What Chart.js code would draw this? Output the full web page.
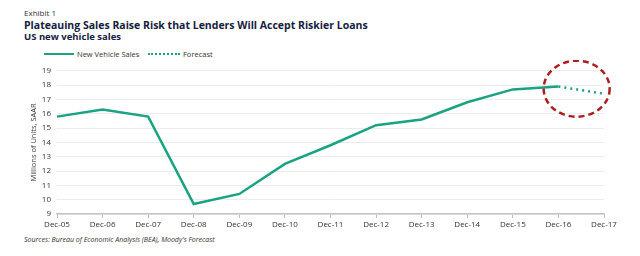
<!DOCTYPE html>
<html>
<head>
<meta charset="utf-8">
<script src="https://cdn.jsdelivr.net/npm/chart.js@4"></script>
<style>
  html, body { margin: 0; padding: 0; background: #fff; }
  body { width: 640px; height: 256px; position: relative; overflow: hidden; font-family: "Open Sans", "Noto Sans", sans-serif; color: #1b1b1b; }
  .txt { position: absolute; left: 24px; white-space: nowrap; line-height: 1; }
  #exhibit { top: 9px; font-size: 8px; color: #333; }
  #title { top: 20px; font-size: 10.5px; font-weight: 700; color: #14213d; }
  #subtitle { top: 32px; font-size: 9.5px; font-weight: 700; color: #14213d; }
  #source { top: 236px; font-size: 7px; font-style: italic; color: #333; }
  .leg { position: absolute; top: 49px; font-size: 7.5px; color: #333; line-height: 10px; }
  .sw { position: absolute; top: 53px; height: 0; }
  #chartBox { position: absolute; left: 0; top: 60px; width: 640px; height: 172px; }
</style>
</head>
<body>
<div class="txt" id="exhibit">Exhibit 1</div>
<div class="txt" id="title">Plateauing Sales Raise Risk that Lenders Will Accept Riskier Loans</div>
<div class="txt" id="subtitle">US new vehicle sales</div>
<div class="sw" style="left:44px;width:30px;border-top:2.5px solid #1aa383;"></div>
<div class="leg" style="left:77px;">New Vehicle Sales</div>
<div class="sw" style="left:148px;width:32px;border-top:2.5px dotted #1aa383;"></div>
<div class="leg" style="left:183px;">Forecast</div>
<div id="chartBox"><canvas id="salesChart"></canvas></div>
<div class="txt" id="source">Sources: Bureau of Economic Analysis (BEA), Moody's Forecast</div>

<script>
const categories = ['Dec-05', 'Dec-06', 'Dec-07', 'Dec-08', 'Dec-09', 'Dec-10', 'Dec-11', 'Dec-12', 'Dec-13', 'Dec-14', 'Dec-15', 'Dec-16', 'Dec-17'];
const salesValues = [15.8, 16.3, 15.8, 9.7, 10.4, 12.5, 13.8, 15.2, 15.6, 16.8, 17.7, 17.9, null];
const forecastValues = [null, null, null, null, null, null, null, null, null, null, null, 17.9, 17.4];
const yTicks = [9, 10, 11, 12, 13, 14, 15, 16, 17, 18, 19];

const lineColor = '#1aa383';

// red dashed ring around the forecast
const ringPlugin = {
    id: 'ring',
    afterDatasetsDraw(chart) {
        const { ctx, scales } = chart;
        const cx = scales.x.getPixelForValue(11.4);
        const cy = scales.y.getPixelForValue(17.75);
        ctx.save();
        ctx.strokeStyle = '#b01c1c';
        ctx.lineWidth = 2.5;
        ctx.setLineDash([6, 4]);
        ctx.beginPath();
        ctx.ellipse(cx, cy, 33, 28, 0, 0, Math.PI * 2);
        ctx.stroke();
        ctx.restore();
    }
};

const ctx = document.getElementById('salesChart').getContext('2d');
new Chart(ctx, {
    type: 'line',
    data: {
        labels: categories,
        datasets: [{
            label: 'New Vehicle Sales',
            data: salesValues,
            borderColor: lineColor,
            borderWidth: 2.5,
            pointRadius: 0,
            tension: 0,
            spanGaps: false
        }, {
            label: 'Forecast',
            data: forecastValues,
            borderColor: lineColor,
            borderWidth: 2.5,
            borderDash: [2, 4],
            pointRadius: 0,
            tension: 0
        }]
    },
    options: {
        responsive: true,
        maintainAspectRatio: false,
        animation: false,
        layout: { padding: { left: 29, right: 36, top: 1, bottom: 0 } },
        plugins: {
            legend: { display: false },
            tooltip: { enabled: false }
        },
        scales: {
            x: {
                offset: false,
                afterFit: (scale) => { scale.height = 18; },
                grid: { display: true, drawOnChartArea: false, tickLength: 4, color: '#bdbdbd' },
                border: { display: true, color: '#c4c4c4', width: 1.5 },
                ticks: { color: '#333', font: { family: 'Open Sans', size: 8 }, maxRotation: 0, autoSkip: false, padding: 2 }
            },
            y: {
                min: 9,
                max: 19,
                afterBuildTicks: (scale) => { scale.ticks = yTicks.map(v => ({ value: v })); },
                afterFit: (scale) => { scale.width = 28; },
                grid: { color: '#ececec', tickLength: 0, lineWidth: 1 },
                border: { display: false },
                ticks: { color: '#333', font: { family: 'Open Sans', size: 8 }, padding: 6 },
                title: {
                    display: true,
                    text: 'Millions of Units, SAAR',
                    color: '#333',
                    font: { family: 'Open Sans', size: 7.5 },
                    padding: 0
                }
            }
        }
    },
    plugins: [ringPlugin]
});
</script>
</body>
</html>
